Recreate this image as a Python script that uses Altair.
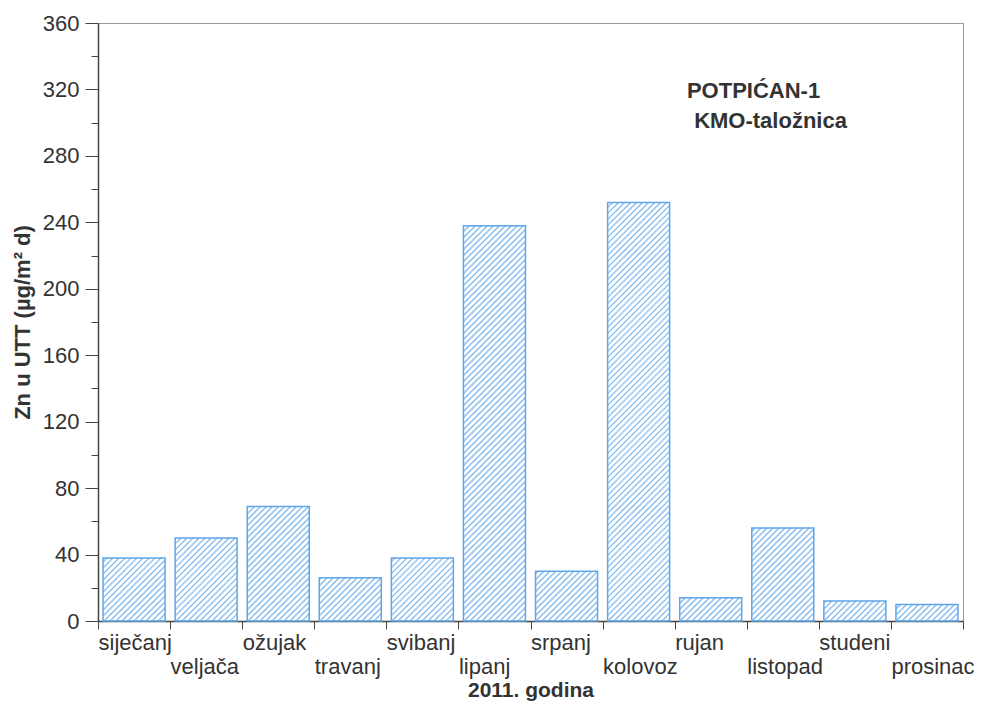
import altair as alt
import pandas as pd

# ---- data ----
months = ["siječanj", "veljača", "ožujak", "travanj", "svibanj", "lipanj",
          "srpanj", "kolovoz", "rujan", "listopad", "studeni", "prosinac"]
values = [38, 50, 69, 26, 38, 238, 30, 252, 14, 56, 12, 10]
y_ticks = list(range(0, 361, 20))
x_ticks = list(range(0, 13))
note_lines = ["POTPIĆAN-1", "KMO-taložnica"]
note_x = [8.17, 8.27]
note_y = [315, 297]

# ---- style constants ----
PLOT_W, PLOT_H = 865, 598
KX = PLOT_W / 12.0
KY = PLOT_H / 360.0
GAP = 0.07
HATCH = 6.0
FONT = "Liberation Sans"
BLUE = "#5fa5e8"
HATCH_BLUE = "#86bcef"

df = pd.DataFrame({"month": months, "idx": list(range(12)), "value": values})
notes = pd.DataFrame({"text": note_lines, "x": note_x, "y": note_y})

xscale = alt.Scale(domain=[0, 12], nice=False, zero=False)
yscale = alt.Scale(domain=[0, 360], nice=False)

month_js = "[" + ",".join(f"'{m}'" for m in months) + "]"
label_expr = (f"datum.value >= 12 ? '' : (datum.value % 2 == 1 ? ['', {month_js}[datum.value]] "
              f": {month_js}[datum.value])")

x_axis = alt.Axis(values=x_ticks, labelExpr=label_expr, labelAlign="left", labelBaseline="top",
                  labelLineHeight=24, labelPadding=3, tickSize=8, grid=False,
                  labelOverlap=False, labelFlush=False, labelBound=False,
                  title="2011. godina", titleFontWeight="bold", titleFontSize=21, titlePadding=2)
y_axis = alt.Axis(values=y_ticks, labelExpr="datum.value % 40 == 0 ? datum.label : ''",
                  tickSize={"condition": {"test": "datum.value % 40 == 0", "value": 13}, "value": 7},
                  labelPadding=6, grid=False, labelOverlap=False,
                  title="Zn u UTT (µg/m² d)", titleFontWeight="bold", titleFontSize=22,
                  titlePadding=8)

base = alt.Chart(df).transform_calculate(
    x0=f"datum.idx + {GAP}", x1=f"datum.idx + 1 - {GAP}"
)

hatch = base.transform_calculate(
    X0=f"datum.x0 * {KX}", X1=f"datum.x1 * {KX}", YT=f"datum.value * {KY}"
).transform_calculate(
    ks=f"sequence(floor((datum.X0 - datum.YT) / {HATCH}), ceil(datum.X1 / {HATCH}) + 1)"
).transform_flatten(["ks"]).transform_calculate(
    c=f"datum.ks * {HATCH}"
).transform_calculate(
    ylo="max(0, datum.X0 - datum.c)", yhi="min(datum.YT, datum.X1 - datum.c)"
).transform_filter("datum.ylo < datum.yhi").transform_calculate(
    hx1=f"(datum.ylo + datum.c) / {KX}", hx2=f"(datum.yhi + datum.c) / {KX}",
    hy1=f"datum.ylo / {KY}", hy2=f"datum.yhi / {KY}"
).mark_rule(color=HATCH_BLUE, strokeWidth=1.4).encode(
    x=alt.X("hx1:Q", scale=xscale, axis=x_axis),
    x2="hx2:Q",
    y=alt.Y("hy1:Q", scale=yscale, axis=y_axis),
    y2="hy2:Q",
)

bars = base.mark_bar(fill="white", fillOpacity=0, stroke=BLUE, strokeWidth=1.5).encode(
    x=alt.X("x0:Q", scale=xscale, axis=x_axis),
    x2="x1:Q",
    y=alt.Y("value:Q", scale=yscale, axis=y_axis),
    y2=alt.datum(0),
)

text = alt.Chart(notes).mark_text(align="left", baseline="alphabetic", font=FONT, fontSize=22,
                                  fontWeight="bold", color="#333333").encode(
    x=alt.X("x:Q", scale=xscale, axis=x_axis),
    y=alt.Y("y:Q", scale=yscale, axis=y_axis),
    text="text:N",
)

chart = alt.layer(hatch, bars, text).properties(
    width=PLOT_W, height=PLOT_H,
    padding={"left": 90, "top": 15, "right": 13, "bottom": 83},
    autosize=alt.AutoSizeParams(type="none"),
).configure_view(stroke="#999999", strokeWidth=1).configure_axis(
    labelFont=FONT, titleFont=FONT, labelFontSize=22, labelColor="#333333",
    titleColor="#333333", domainColor="#444444", tickColor="#444444", domainWidth=1.5,
)

chart.save("out.html", embed_options={"renderer": "svg", "actions": False})
